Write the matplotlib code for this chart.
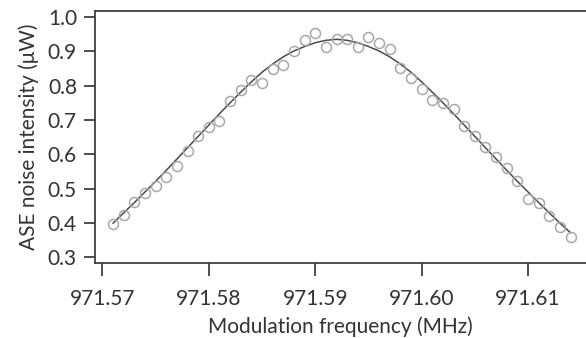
import matplotlib
matplotlib.use("Agg")
import matplotlib.pyplot as plt
import numpy as np

plt.rcParams['font.family'] = ['Lato', 'DejaVu Sans']

# modulation frequency of each measurement (MHz)
freq = [971.571, 971.572, 971.573, 971.574, 971.575, 971.576, 971.577, 971.578,
        971.579, 971.580, 971.581, 971.582, 971.583, 971.584, 971.585, 971.586,
        971.587, 971.588, 971.589, 971.590, 971.591, 971.592, 971.593, 971.594,
        971.595, 971.596, 971.597, 971.598, 971.599, 971.600, 971.601, 971.602,
        971.603, 971.604, 971.605, 971.606, 971.607, 971.608, 971.609, 971.610,
        971.611, 971.612, 971.613, 971.614]

# measured ASE noise (uW)
measured = [0.397, 0.423, 0.461, 0.487, 0.507, 0.534, 0.566, 0.609,
            0.653, 0.679, 0.697, 0.755, 0.787, 0.816, 0.808, 0.848,
            0.860, 0.901, 0.933, 0.953, 0.913, 0.936, 0.936, 0.913,
            0.942, 0.924, 0.907, 0.851, 0.822, 0.790, 0.758, 0.749,
            0.732, 0.682, 0.653, 0.621, 0.592, 0.560, 0.522, 0.469,
            0.458, 0.420, 0.388, 0.359]

# fitted curve (uW)
fit = [0.399, 0.429, 0.459, 0.490, 0.521, 0.553, 0.586, 0.619,
       0.652, 0.685, 0.718, 0.750, 0.781, 0.811, 0.839, 0.863,
       0.884, 0.901, 0.914, 0.925, 0.932, 0.935, 0.932, 0.925,
       0.914, 0.901, 0.884, 0.863, 0.839, 0.811, 0.781, 0.750,
       0.718, 0.685, 0.652, 0.619, 0.586, 0.553, 0.521, 0.490,
       0.459, 0.429, 0.399, 0.371]

xticks = [971.57, 971.58, 971.59, 971.60, 971.61]
yticks = [0.3, 0.4, 0.5, 0.6, 0.7, 0.8, 0.9, 1.0]

W, H = 586, 338
fig = plt.figure(figsize=(W / 100, H / 100), dpi=100)
ax = fig.add_axes([95 / W, 75 / H, (586 - 95) / W, (263 - 11) / H])

dark = '#404040'
ax.plot(freq, fit, color='#4a4a4a', lw=1.1, zorder=2)
ax.plot(freq, measured, 'o', mfc='none', mec='#a8a8a8', mew=1.1, ms=7.2, zorder=3)

ax.set_xlim(971.5693, 971.61545)
ax.set_ylim(0.2828, 1.0175)
ax.set_xticks(xticks)
ax.set_xticklabels(['%.2f' % v for v in xticks])
ax.set_yticks(yticks)
ax.set_yticklabels(['%.1f' % v for v in yticks])

for s in ['left', 'bottom', 'top']:
    ax.spines[s].set_color(dark)
    ax.spines[s].set_linewidth(1.3)
ax.spines['right'].set_visible(False)

ax.tick_params(axis='both', direction='out', color=dark, width=1.3,
               labelsize=15, labelcolor='#333333')
ax.tick_params(axis='x', length=9, pad=10)
ax.tick_params(axis='y', length=8, pad=5)

ax.set_xlabel('Modulation frequency (MHz)', fontsize=15, color='#333333', labelpad=5)
ax.set_ylabel('ASE noise intensity (μW)', fontsize=15, color='#333333', labelpad=6)

fig.savefig('out.png', dpi=100)
